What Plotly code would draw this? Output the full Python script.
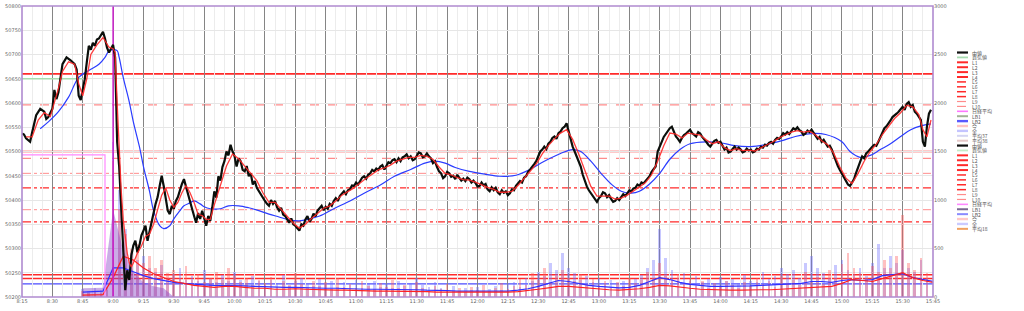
import plotly.graph_objects as go
import pandas as pd

DAY = "2025-01-01 "


def T(ts):
    return pd.to_datetime([DAY + t for t in ts])


# ---------------- price (中値) ----------------
# part A: 8:15 - 9:48 (irregular times)
mid_times_a = ["8:15", "8:16", "8:17", "8:19", "8:20", "8:21", "8:22", "8:24", "8:26", "8:27", "8:28", "8:30",
               "8:31", "8:32", "8:33", "8:35", "8:36", "8:37", "8:39", "8:41", "8:42", "8:43", "8:44", "8:45",
               "8:46", "8:47", "8:48", "8:49", "8:50", "8:51", "8:52", "8:53", "8:54", "8:55", "8:56", "8:57",
               "8:58", "8:59", "9:00", "9:01", "9:02", "9:03", "9:04", "9:05", "9:06", "9:07", "9:08", "9:09",
               "9:10", "9:11", "9:12", "9:13", "9:14", "9:15", "9:16", "9:17", "9:18", "9:19", "9:20", "9:21",
               "9:22", "9:23", "9:24", "9:25", "9:26", "9:27", "9:28", "9:29", "9:30", "9:31", "9:32", "9:33",
               "9:34", "9:35", "9:36", "9:37", "9:38", "9:39", "9:40", "9:41", "9:42", "9:43", "9:44", "9:45",
               "9:46", "9:47", "9:48"]
mid_prices_a = [50537, 50535, 50527, 50520, 50539, 50555, 50575, 50588, 50582, 50567, 50571, 50588,
                50627, 50608, 50622, 50680, 50688, 50694, 50688, 50680, 50669, 50615, 50606, 50629,
                50649, 50684, 50718, 50710, 50724, 50718, 50731, 50733, 50741, 50747, 50733, 50714,
                50704, 50714, 50720, 50694, 50520, 50469, 50388, 50296, 50214, 50255, 50235, 50286,
                50306, 50316, 50292, 50306, 50327, 50337, 50347, 50316, 50333, 50353, 50373, 50392,
                50406, 50429, 50450, 50429, 50398, 50378, 50371, 50388, 50382, 50398, 50406, 50422,
                50433, 50443, 50429, 50412, 50398, 50382, 50367, 50353, 50373, 50361, 50378, 50361,
                50347, 50367, 50357]
# part B: every minute from 9:49 to 15:44
mid_start_b = "09:49"
mid_prices_b = [
    50385, 50418, 50405, 50449, 50440, 50468, 50480, 50500, 50492, 50514, 50500,
    50490, 50469, 50486, 50480, 50462, 50459, 50470, 50449, 50455, 50432,
    50439, 50425, 50418, 50410, 50404, 50398, 50392, 50388, 50400, 50392,
    50398, 50385, 50378, 50384, 50370, 50367, 50360, 50353, 50362, 50350,
    50347, 50341, 50337, 50350, 50347, 50360, 50367, 50355, 50361, 50372,
    50366, 50378, 50384, 50388, 50379, 50386, 50382, 50392, 50388, 50398,
    50404, 50398, 50408, 50414, 50418, 50412, 50420, 50422, 50430, 50429,
    50436, 50432, 50439, 50446, 50449, 50444, 50452, 50455, 50462, 50459,
    50465, 50462, 50469, 50472, 50463, 50470, 50478, 50476, 50482, 50484,
    50478, 50486, 50480, 50488, 50490, 50494, 50486, 50490, 50482, 50484,
    50492, 50498, 50496, 50488, 50490, 50496, 50490, 50486, 50476, 50480,
    50468, 50459, 50455, 50445, 50449, 50458, 50455, 50448, 50450, 50443,
    50452, 50447, 50440, 50444, 50439, 50446, 50443, 50436, 50440, 50435,
    50428, 50429, 50436, 50430, 50433, 50422, 50418, 50426, 50420, 50425,
    50416, 50412, 50420, 50415, 50418, 50410, 50414, 50422, 50420, 50429,
    50434, 50439, 50436, 50446, 50449, 50458, 50463, 50470, 50474, 50480,
    50492, 50500, 50504, 50510, 50505, 50516, 50520, 50528, 50531, 50526,
    50538, 50541, 50548, 50551, 50558, 50541, 50525, 50510, 50500, 50490,
    50478, 50469, 50452, 50439, 50428, 50420, 50414, 50406, 50402, 50396,
    50404, 50408, 50416, 50414, 50406, 50410, 50402, 50396, 50398, 50404,
    50400, 50406, 50412, 50408, 50414, 50420, 50418, 50424, 50425, 50432,
    50429, 50436, 50434, 50439, 50446, 50449, 50458, 50464, 50469, 50500,
    50512, 50520, 50530, 50536, 50541, 50548, 50551, 50540, 50531, 50526,
    50520, 50528, 50534, 50537, 50542, 50545, 50538, 50534, 50531, 50540,
    50537, 50530, 50526, 50520, 50514, 50510, 50516, 50522, 50524, 50518,
    50520, 50512, 50504, 50508, 50498, 50500, 50506, 50510, 50504, 50508,
    50504, 50498, 50500, 50506, 50502, 50504, 50498, 50500, 50506, 50504,
    50510, 50508, 50514, 50512, 50518, 50520, 50516, 50524, 50528, 50526,
    50531, 50538, 50535, 50540, 50536, 50541, 50548, 50545, 50550, 50544,
    50541, 50534, 50537, 50543, 50540, 50545, 50538, 50531, 50526, 50530,
    50520, 50524, 50516, 50510, 50512, 50504, 50492, 50480, 50470, 50462,
    50455, 50446, 50439, 50432, 50429, 50436, 50443, 50456, 50469, 50480,
    50490, 50486, 50496, 50500, 50506, 50510, 50514, 50512, 50520, 50530,
    50541, 50548, 50552, 50557, 50564, 50571, 50574, 50578, 50582, 50588,
    50592, 50586, 50598, 50602, 50592, 50596, 50582, 50578, 50572, 50565,
    50520, 50510, 50551, 50578, 50586]

# ---------------- short moving average (red) ----------------
ma_s_times = ["8:17", "8:20", "8:23", "8:26", "8:29", "8:31", "8:33", "8:35", "8:38", "8:41", "8:43", "8:45",
              "8:47", "8:49", "8:52", "8:55", "8:58", "9:00", "9:01", "9:02", "9:03", "9:04", "9:05", "9:06",
              "9:07", "9:08", "9:09", "9:10", "9:12", "9:14", "9:16", "9:18", "9:20", "9:22", "9:24", "9:26",
              "9:28", "9:30", "9:32", "9:34", "9:36", "9:38", "9:40", "9:42", "9:44", "9:46", "9:48", "9:50",
              "9:53", "9:56", "9:59", "10:02", "10:05", "10:08", "10:11", "10:14", "10:17", "10:20", "10:23",
              "10:26", "10:29", "10:32", "10:35", "10:38", "10:41", "10:44", "10:47", "10:50", "10:53", "10:56",
              "10:59", "11:02", "11:05", "11:08", "11:11", "11:14", "11:17", "11:20", "11:23", "11:26", "11:29",
              "11:32", "11:35", "11:38", "11:41", "11:44", "11:47", "11:50", "11:53", "11:56", "11:59", "12:02",
              "12:05", "12:08", "12:11", "12:14", "12:17", "12:20", "12:23", "12:26", "12:29", "12:32", "12:35",
              "12:38", "12:41", "12:44", "12:47", "12:50", "12:53", "12:56", "12:59", "13:02", "13:05", "13:08",
              "13:11", "13:14", "13:17", "13:20", "13:23", "13:26", "13:29", "13:32", "13:35", "13:38", "13:41",
              "13:44", "13:47", "13:50", "13:53", "13:56", "13:59", "14:02", "14:05", "14:08", "14:11", "14:14",
              "14:17", "14:20", "14:23", "14:26", "14:29", "14:32", "14:35", "14:38", "14:41", "14:44", "14:47",
              "14:50", "14:53", "14:56", "14:59", "15:02", "15:05", "15:08", "15:11", "15:14", "15:17", "15:20",
              "15:23", "15:26", "15:29", "15:32", "15:35", "15:38", "15:40", "15:42", "15:44"]
ma_s_prices = [50530, 50530, 50565, 50580, 50572, 50600, 50630, 50665, 50685, 50680, 50640, 50615,
               50650, 50700, 50720, 50735, 50715, 50712, 50705, 50600, 50500, 50420, 50360, 50320,
               50290, 50270, 50262, 50270, 50290, 50305, 50325, 50330, 50350, 50380, 50410, 50425,
               50400, 50385, 50395, 50415, 50430, 50415, 50395, 50370, 50368, 50360, 50360, 50390,
               50430, 50470, 50495, 50485, 50470, 50455, 50440, 50415, 50395, 50395, 50380,
               50365, 50352, 50342, 50350, 50362, 50372, 50383, 50388, 50398, 50410, 50418,
               50425, 50435, 50445, 50453, 50462, 50466, 50472, 50480, 50484, 50488, 50488,
               50492, 50490, 50484, 50468, 50455, 50452, 50446, 50442, 50441, 50437, 50431,
               50426, 50422, 50416, 50416, 50418, 50430, 50444, 50458, 50474, 50495, 50512,
               50526, 50538, 50545, 50525, 50495, 50460, 50428, 50408, 50408, 50408, 50402,
               50404, 50410, 50418, 50427, 50436, 50452, 50480, 50512, 50538, 50536, 50528,
               50538, 50536, 50534, 50524, 50516, 50520, 50508, 50502, 50506, 50502, 50503,
               50501, 50508, 50514, 50520, 50528, 50534, 50540, 50543, 50540, 50542, 50534,
               50522, 50514, 50496, 50468, 50445, 50434, 50455, 50480, 50500, 50515, 50535,
               50552, 50568, 50580, 50595, 50592, 50576, 50545, 50530, 50565]

# ---------------- long moving average (blue) ----------------
ma_l_times = ["8:24", "8:28", "8:33", "8:38", "8:43", "8:48", "8:53", "8:56", "8:58", "9:00", "9:02", "9:03",
              "9:05", "9:08", "9:10", "9:13", "9:15", "9:18", "9:20", "9:23", "9:25", "9:28", "9:30", "9:33",
              "9:35", "9:38", "9:40", "9:43", "9:45", "9:48", "9:53", "9:57", "10:02", "10:07", "10:12", "10:17",
              "10:22", "10:27", "10:32", "10:37", "10:42", "10:49", "10:57", "11:04", "11:12", "11:19", "11:27",
              "11:34", "11:39", "11:44", "11:49", "11:56", "12:04", "12:11", "12:19", "12:26", "12:33", "12:41",
              "12:47", "12:51", "12:56", "13:01", "13:06", "13:11", "13:16", "13:20", "13:25", "13:30", "13:35",
              "13:40", "13:45", "13:53", "14:00", "14:07", "14:15", "14:22", "14:30", "14:37", "14:45", "14:52",
              "15:00", "15:04", "15:09", "15:14", "15:19", "15:24", "15:29", "15:34", "15:39", "15:44"]
ma_l_prices = [50547, 50561, 50582, 50612, 50653, 50667, 50680, 50694, 50708, 50710, 50708, 50694,
               50653, 50602, 50561, 50510, 50469, 50418, 50378, 50347, 50341, 50347, 50361, 50378,
               50388, 50394, 50398, 50392, 50386, 50382, 50382, 50388, 50388, 50384, 50378, 50371,
               50365, 50359, 50357, 50361, 50367, 50382, 50398, 50414, 50431, 50449, 50463,
               50476, 50480, 50476, 50467, 50459, 50453, 50449, 50451, 50463, 50480, 50496,
               50504, 50500, 50480, 50455, 50433, 50418, 50414, 50418, 50433, 50455, 50484,
               50504, 50516, 50520, 50518, 50512, 50510, 50514, 50522, 50531, 50537, 50535,
               50520, 50500, 50488, 50492, 50504, 50516, 50531, 50545, 50553, 50557]

# ---------------- 日経平均 / pre-open reference ----------------
pre_times = ["8:15", "8:56", "8:56"]
pre_values = [50493, 50493, 50150]
nk_times = ["9:00", "9:00", "9:01"]
nk_values = [50850, 50150, 50150]

# ---------------- 買気値 (pre-open) ----------------
bid_times = ["8:15", "8:45"]
bid_values = [50650, 50650]

# ---------------- horizontal levels ----------------
level_names = ["L1", "L2", "L3", "L4", "L5", "L6", "L7", "L8", "L9", "L10", "LB2"]
level_values = [50660, 50500, 50246, 50238, 50596, 50486, 50425, 50355, 50455, 50380, 50227]

# ---------------- volume (right axis) ----------------
vol_now = [60, 40, 50, 45, 70,
           1400, 900, 650, 500, 550, 350, 420, 300, 380, 250, 280, 200, 320, 180, 240, 150, 200, 260, 180, 300,
           220, 150, 200, 120, 180, 140, 210, 100, 160, 120, 250, 130, 90, 170, 110, 150, 80, 200, 100, 130,
           90, 160, 110, 80, 140, 100, 180, 90, 120, 70, 150, 90, 60, 110, 80, 130, 60, 90, 50, 100,
           70, 120, 60, 90, 140, 80, 110, 190, 120, 250, 180, 300, 150, 220, 280, 200, 160, 240, 130, 190,
           120, 170, 90, 150, 110, 200, 140, 180, 260, 200, 350, 220, 180, 240, 130, 190, 110, 160, 90, 140,
           100, 170, 120, 90, 150, 110, 200, 130, 170, 100, 220, 140, 180, 120, 260, 160, 210, 130, 280, 200,
           340, 450, 300, 250, 200, 320, 260, 380, 300, 420, 850, 350, 280, 400, 250]
vol_all = [80, 60, 90, 70, 100,
           1600, 1100, 700, 450, 380, 420, 300, 260, 330, 200, 240, 300, 180, 220, 160, 280, 190, 150, 230, 170,
           260, 180, 140, 220, 160, 120, 180, 140, 230, 110, 170, 200, 130, 110, 190, 140, 170, 100, 150, 120,
           180, 90, 140, 160, 100, 130, 90, 170, 110, 140, 200, 120, 100, 150, 90, 70, 110, 60, 90, 70,
           100, 60, 80, 110, 70, 130, 150, 100, 200, 170, 260, 220, 350, 280, 450, 300, 250, 180, 220, 150,
           200, 130, 180, 140, 160, 120, 190, 230, 300, 380, 700, 400, 280, 200, 250, 170, 220, 150, 190, 130,
           210, 160, 190, 140, 230, 170, 150, 260, 190, 220, 300, 240, 280, 200, 350, 420, 300, 250, 200, 330,
           380, 280, 240, 300, 220, 350, 550, 300, 420, 350, 480, 300, 260, 380, 200]
vol_now_avg = [20, 20, 25, 200, 420, 380, 300, 240, 200, 160, 140, 120, 110, 100, 110, 110, 100, 90, 90, 80,
               80, 85, 80, 75, 70, 70, 70, 65, 65, 60, 60, 60, 55, 55, 55, 50, 50, 45, 45, 45,
               45, 45, 50, 55, 65, 80, 95, 110, 110, 100, 90, 80, 75, 70, 75, 85, 100, 120, 115, 100,
               90, 80, 75, 70, 70, 70, 75, 75, 75, 80, 85, 90, 95, 100, 110, 140, 180, 170, 160, 190,
               220, 250, 200, 170, 150]
vol_all_avg = [50, 55, 60, 300, 300, 260, 220, 190, 170, 150, 140, 130, 125, 120, 120, 120, 115, 110, 105, 100,
               100, 100, 95, 95, 90, 90, 85, 85, 80, 80, 80, 75, 75, 75, 70, 70, 65, 60, 60, 55,
               55, 55, 60, 70, 85, 110, 140, 170, 160, 140, 120, 110, 100, 95, 100, 120, 160, 200, 180, 150,
               130, 120, 110, 110, 110, 115, 115, 120, 125, 130, 135, 140, 160, 160, 150, 170, 180, 170, 180, 220,
               230, 240, 200, 180, 160]
open_area = [90, 90, 95, 900, 480, 260, 150, 110, 90, 0]

# ---------------- axis ticks ----------------
price_ticks = [50200, 50250, 50300, 50350, 50400, 50450, 50500, 50550, 50600, 50650, 50700, 50750, 50800]
vol_ticks = [0, 500, 1000, 1500, 2000, 2500, 3000]

RED = "#ff2a2a"
LRED = "#ff8c8c"

fig = go.Figure()

t3 = pd.date_range(DAY + "08:45", periods=len(vol_now), freq="3min")
t3b = pd.date_range(DAY + "08:45", periods=len(vol_all), freq="3min")
t5 = pd.date_range(DAY + "08:45", periods=len(vol_now_avg), freq="5min")
t5b = pd.date_range(DAY + "08:45", periods=len(vol_all_avg), freq="5min")
t5c = pd.date_range(DAY + "08:45", periods=len(open_area), freq="5min")

mid_x = list(T(mid_times_a)) + list(pd.date_range(DAY + mid_start_b, periods=len(mid_prices_b), freq="1min"))
mid_y = mid_prices_a + mid_prices_b

# volume on y (right side)
fig.add_trace(go.Scatter(x=t5c, y=open_area, yaxis="y", mode="lines", line=dict(width=0, color="rgba(140,70,200,0.5)"),
                         fill="tozeroy", fillcolor="rgba(140,70,200,0.45)", name="LB1"))
fig.add_trace(go.Bar(x=t3b, y=vol_all, yaxis="y", marker=dict(color="rgba(110,110,255,0.38)", line=dict(width=0)),
                     width=80000, name="全"))
fig.add_trace(go.Bar(x=t3, y=vol_now, yaxis="y", marker=dict(color="rgba(255,90,90,0.38)", line=dict(width=0)),
                     width=80000, name="今"))
fig.add_trace(go.Scatter(x=t5b, y=vol_all_avg, yaxis="y", mode="lines", line=dict(color="#3030ff", width=1.2),
                         name="全平均"))
fig.add_trace(go.Scatter(x=t5, y=vol_now_avg, yaxis="y", mode="lines", line=dict(color="#ff2020", width=1.2),
                         name="今平均"))

# price on y2 (left side)
fig.add_trace(go.Scatter(x=T(bid_times), y=bid_values, yaxis="y2", mode="lines",
                         line=dict(color="#a8dcb0", width=1.5), name="買気値"))
fig.add_trace(go.Scatter(x=T(pre_times), y=pre_values, yaxis="y2", mode="lines",
                         line=dict(color="#ff88ff", width=1.2), name="日経平均前"))
fig.add_trace(go.Scatter(x=T(nk_times), y=nk_values, yaxis="y2", mode="lines",
                         line=dict(color="#cc22cc", width=1.5), name="日経平均"))
fig.add_trace(go.Scatter(x=T(ma_l_times), y=ma_l_prices, yaxis="y2", mode="lines",
                         line=dict(color="#2a3cff", width=1.2, shape="spline"), name="LB2"))
fig.add_trace(go.Scatter(x=mid_x, y=mid_y, yaxis="y2", mode="lines",
                         line=dict(color="#0b0f0b", width=2.2), name="中値"))
fig.add_trace(go.Scatter(x=T(ma_s_times), y=ma_s_prices, yaxis="y2", mode="lines",
                         line=dict(color="rgba(255,40,40,0.9)", width=1.3), name="L"))

# horizontal level lines
level_styles = {
    "L1": (RED, "solid", 1.6), "L2": (RED, "solid", 1.6), "L3": (RED, "solid", 1.6), "L4": (RED, "solid", 1.6),
    "L5": (LRED, "dash", 1.2), "L6": (LRED, "dash", 1.2), "L7": (RED, "dashdot", 1.2), "L8": (RED, "dashdot", 1.2),
    "L9": (LRED, "dashdot", 1.0), "L10": (LRED, "dashdot", 1.0), "LB2": ("#4b4bff", "solid", 1.4),
}
shapes = []
for nm, val in zip(level_names, level_values):
    c, d, w = level_styles[nm]
    shapes.append(dict(type="line", xref="paper", x0=0, x1=1, yref="y2", y0=val, y1=val,
                       line=dict(color=c, dash=d, width=w), layer="below"))

# plot frame
shapes.append(dict(type="rect", xref="paper", yref="paper", x0=0, x1=1, y0=0, y1=1,
                   line=dict(color="#b08ad0", width=1.6), layer="above"))

# manual legend (two groups)
PL, PW, PT, PH = 22, 911, 3, 294


def px_x(p):
    return (p - PL) / PW


def px_y(p):
    return (PT + PH - p) / PH


leg1 = [("中値", "#111111", "solid", 2.2), ("買気値", "#a8dcb0", "solid", 1.8),
        ("L1", RED, "solid", 2), ("L2", RED, "solid", 2), ("L3", RED, "solid", 2), ("L4", RED, "solid", 2),
        ("L5", RED, "dash", 1.5), ("L6", RED, "dash", 1.5), ("L7", RED, "dashdot", 1.5), ("L8", RED, "dashdot", 1.5),
        ("L9", LRED, "dashdot", 1.2), ("L10", LRED, "dashdot", 1.2), ("日経平均", "#ff77ff", "solid", 1.6),
        ("LB1", "#a2b296", "solid", 2), ("LB2", "#5a5aff", "solid", 2.4), ("今", "#ffc4c4", "solid", 2.4),
        ("全", "#c4c4ff", "solid", 2.4), ("平均37", "#d4d4f2", "solid", 2), ("平均38", "#e6c8c8", "solid", 2)]
leg2 = [("中値", "#111111", "solid", 2.2), ("買気値", "#c4ecc8", "solid", 1.8),
        ("L1", RED, "solid", 2), ("L2", RED, "solid", 2), ("L3", RED, "solid", 2), ("L4", RED, "solid", 2),
        ("L5", RED, "dash", 1.5), ("L6", RED, "dash", 1.5), ("L7", RED, "dashdot", 1.5), ("L8", RED, "dashdot", 1.5),
        ("L9", LRED, "dashdot", 1.2), ("L10", LRED, "dashdot", 1.2), ("日経平均", "#ff88ff", "solid", 1.6),
        ("LB1", "#7a6890", "solid", 2), ("LB2", "#8a8aff", "solid", 2), ("今", "#ffc8c8", "solid", 2.4),
        ("全", "#cacaff", "solid", 2.4), ("平均18", "#f0a060", "solid", 2)]

annotations = []
STEP = 4.95
for start, group in ((50.0, leg1), (144.0, leg2)):
    for i, (nm, c, d, w) in enumerate(group):
        yy = px_y(start + i * STEP)
        shapes.append(dict(type="line", xref="paper", yref="paper", x0=px_x(957), x1=px_x(968), y0=yy, y1=yy,
                           line=dict(color=c, dash=d, width=w)))
        annotations.append(dict(text=nm, xref="paper", yref="paper", x=px_x(970), y=yy, xanchor="left",
                                yanchor="middle", showarrow=False,
                                font=dict(size=5, color="#555555", family="Noto Sans CJK JP")))

fig.update_layout(
    width=1024, height=311,
    margin=dict(l=22, r=91, t=3, b=14),
    paper_bgcolor="white", plot_bgcolor="white",
    showlegend=False, barmode="overlay", bargap=0,
    shapes=shapes, annotations=annotations,
    font=dict(family="DejaVu Sans", size=5, color="#666666"),
    xaxis=dict(type="date", range=[DAY + "08:15", DAY + "15:45"], tick0=DAY + "08:15", dtick=900000,
               tickformat="%-H:%M", showgrid=True, gridcolor="#858585", gridwidth=1,
               minor=dict(dtick=300000, tick0=DAY + "08:15", showgrid=True, gridcolor="#ececec", gridwidth=1),
               ticks="", zeroline=False, showline=False, ticklabeloverflow="allow",
               tickfont=dict(size=5, color="#666666")),
    yaxis=dict(range=[0, 3000], tickvals=vol_ticks, side="right", showgrid=False, zeroline=False,
               ticks="", tickformat="d", ticklabeloverflow="allow", tickfont=dict(size=5, color="#666666")),
    yaxis2=dict(range=[50200, 50800], tickvals=price_ticks, side="left", overlaying="y", showgrid=True,
                gridcolor="#e6e6e6", zeroline=False, ticks="", tickformat="d", ticklabeloverflow="allow",
                tickfont=dict(size=5, color="#666666")),
)

fig.write_html("out.html")
